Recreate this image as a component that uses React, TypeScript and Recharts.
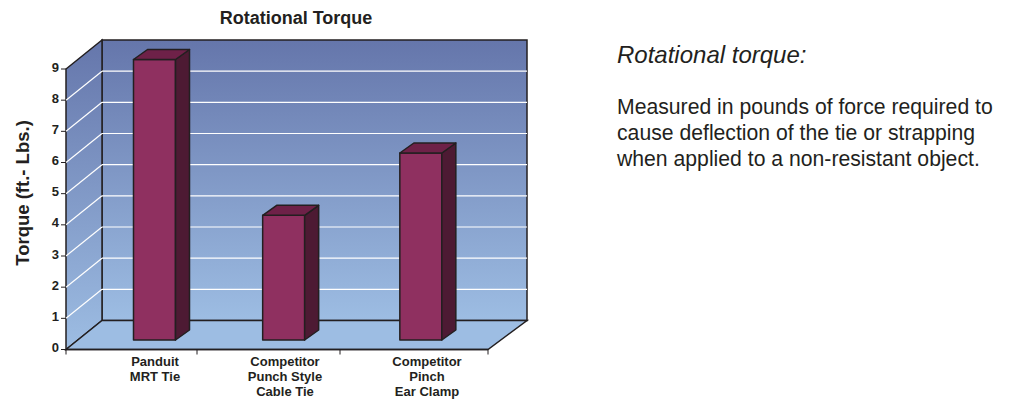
import { BarChart, Bar, XAxis, YAxis, CartesianGrid, ReferenceArea } from 'recharts'

const categories = ['Panduit|MRT Tie', 'Competitor|Punch Style|Cable Tie', 'Competitor|Pinch|Ear Clamp']
const torque = [9, 4, 6]
const yTicks = [0, 1, 2, 3, 4, 5, 6, 7, 8, 9]

const chartData = categories.map((name, i) => ({ name, torque: torque[i] }))

const INK = '#231f20'
const DEPTH_X = 36
const DEPTH_Y = 29
// the source chart has uneven category bands, so nudge from the equal ones
const BAR_NUDGE = [18.5, 7, 3.5]
const LABEL_X = [155, 285, 427]
const BAND_EDGES = [66, 197, 340, 488]
const BAR_LIFT_Y = 9.5
const FONT = '"Liberation Sans", Arial, sans-serif'

function Walls(props: any) {
  const { x, y, width, height } = props
  const b = y + height
  const r = x + width
  return (
    <g>
      <defs>
        <linearGradient id="wallFill" x1="0" y1="0" x2="0" y2="1">
          <stop offset="0%" stopColor="#6576ab" />
          <stop offset="100%" stopColor="#9dbde3" />
        </linearGradient>
      </defs>
      <rect x={x + DEPTH_X} y={y - DEPTH_Y} width={width + 3} height={height} fill="url(#wallFill)" stroke={INK} strokeWidth={1.5} />
      <path d={`M${x},${y} L${x + DEPTH_X},${y - DEPTH_Y} V${b - DEPTH_Y} L${x},${b} Z`} fill="url(#wallFill)" stroke={INK} strokeWidth={1.5} />
      <path d={`M${x},${b} L${x + DEPTH_X},${b - DEPTH_Y} H${r + DEPTH_X + 3} L${r},${b} Z`} fill="#9dbde3" stroke={INK} strokeWidth={1.5} />
    </g>
  )
}

function GridLine(props: any) {
  const { x1, x2, y1, index } = props
  if (index === 0 || y1 < 70) {
    // floor and wall top already have their own edge
    return <g />
  }
  return (
    <g stroke="#ffffff" strokeWidth={1.2}>
      <line x1={x1} y1={y1} x2={x1 + DEPTH_X} y2={y1 - DEPTH_Y} />
      <line x1={x1 + DEPTH_X} y1={y1 - DEPTH_Y} x2={x2 + DEPTH_X + 3} y2={y1 - DEPTH_Y} />
    </g>
  )
}

function Bar3D(props: any) {
  const { x, y, width, height, index } = props
  const left = x + BAR_NUDGE[index]
  const right = left + width
  const top = y - BAR_LIFT_Y
  const bottom = top + height
  const dx = 14
  const dy = 10
  return (
    <g stroke={INK} strokeWidth={1.5} strokeLinejoin="round">
      <rect x={left} y={top} width={width} height={height} fill="#8f3060" />
      <path d={`M${right},${top} L${right + dx},${top - dy} V${bottom - dy} L${right},${bottom} Z`} fill="#4d1a33" />
      <path d={`M${left},${top} L${left + dx},${top - dy} H${right + dx} L${right},${top} Z`} fill="#6e2148" />
    </g>
  )
}

function CategoryTick(props: any) {
  const { y, index, payload } = props
  const lines = String(payload.value).split('|')
  return (
    <g>
      {index === 0 && <line x1={BAND_EDGES[0]} x2={BAND_EDGES[0]} y1={y - 8} y2={y - 3} stroke={INK} />}
      <line x1={BAND_EDGES[index + 1]} x2={BAND_EDGES[index + 1]} y1={y - 8} y2={y - 3} stroke={INK} />
      <text x={LABEL_X[index]} y={y + 8} textAnchor="middle" fontFamily={FONT} fontWeight="bold" fontSize={13} fill={INK}>
        {lines.map((line, i) => (
          <tspan key={i} x={LABEL_X[index]} dy={i === 0 ? 0 : 15}>{line}</tspan>
        ))}
      </text>
    </g>
  )
}

function ValueTick(props: any) {
  const { x, y, payload } = props
  return (
    <text x={x} y={y + 2.5} textAnchor="end" fontFamily={FONT} fontWeight="bold" fontSize={13} fill={INK}>
      {payload.value}
    </text>
  )
}

export default function App() {
  return (
    <div style={{ position: 'absolute', left: 0, top: 0, width: 1010, height: 400, background: '#fff' }}>
      <div style={{ position: 'absolute', left: 196, top: 8, width: 200, textAlign: 'center', fontFamily: FONT, fontWeight: 'bold', fontSize: 18, color: INK }}>
        Rotational Torque
      </div>
      <BarChart
        width={1010}
        height={400}
        data={chartData}
        margin={{ top: 69, right: 522, bottom: 0, left: 26 }}
      >
        <ReferenceArea y1={0} y2={9} shape={<Walls />} ifOverflow="visible" zIndex={-200} />
        <CartesianGrid vertical={false} horizontal={(p: any) => <GridLine {...p} />} />
        <XAxis
          dataKey="name"
          height={50.5}
          interval={0}
          axisLine={{ stroke: INK, strokeWidth: 1.5 }}
          tickLine={false}
          tick={<CategoryTick />}
        />
        <YAxis
          width={40}
          domain={[0, 9]}
          ticks={yTicks}
          interval={0}
          axisLine={false}
          tickLine={{ stroke: INK, strokeWidth: 1 }}
          tickSize={5}
          tickMargin={2}
          tick={<ValueTick />}
        />
        <text x={29} y={193} transform="rotate(-90 29 193)" textAnchor="middle" fontFamily={FONT} fontWeight="bold" fontSize={18.5} fill={INK}>
          Torque (ft.- Lbs.)
        </text>
        <Bar dataKey="torque" barSize={42} shape={<Bar3D />} isAnimationActive={false} />
      </BarChart>
      <div style={{ position: 'absolute', left: 617, top: 41, fontFamily: FONT, fontStyle: 'italic', fontSize: 24, color: INK }}>
        Rotational torque:
      </div>
      <div style={{ position: 'absolute', left: 617, top: 94, fontFamily: FONT, fontSize: 21.2, lineHeight: '26px', color: INK, whiteSpace: 'pre' }}>
        {'Measured in pounds of force required to\ncause deflection of the tie or strapping\nwhen applied to a non-resistant object.'}
      </div>
    </div>
  )
}
